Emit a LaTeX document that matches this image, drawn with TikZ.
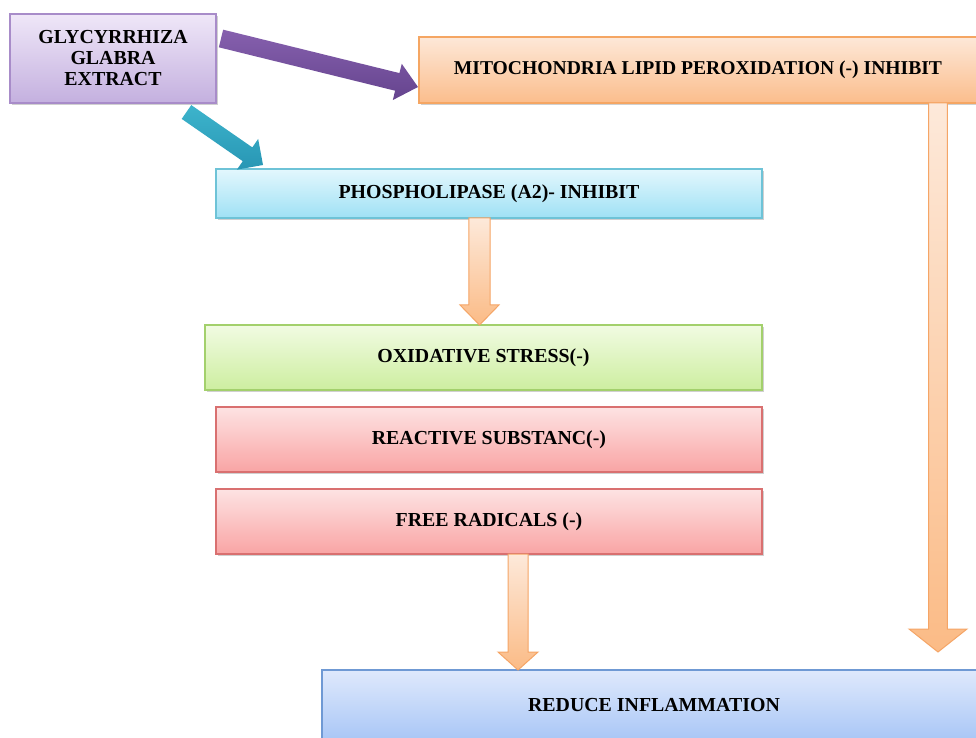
\documentclass[tikz,border=0pt]{standalone}
\usepackage{fontspec}
\setmainfont{Liberation Serif}
\usetikzlibrary{calc,shadows}
\definecolor{glyT}{HTML}{EFE7F8}\definecolor{glyB}{HTML}{C4B0DF}\definecolor{glyD}{HTML}{A88CC9}
\definecolor{mitT}{HTML}{FDE8D8}\definecolor{mitB}{HTML}{FBBD8C}\definecolor{mitD}{HTML}{F5A663}
\definecolor{phoT}{HTML}{E3F7FD}\definecolor{phoB}{HTML}{9FE1F5}\definecolor{phoD}{HTML}{6EC3D7}
\definecolor{oxiT}{HTML}{F1FBE2}\definecolor{oxiB}{HTML}{CDEEA0}\definecolor{oxiD}{HTML}{A3D06C}
\definecolor{redT}{HTML}{FDE3E3}\definecolor{redB}{HTML}{F9A4A4}\definecolor{redD}{HTML}{D97070}
\definecolor{bluT}{HTML}{DFE9FC}\definecolor{bluB}{HTML}{A9C6F6}\definecolor{bluD}{HTML}{6F99D4}
\definecolor{purT}{HTML}{8660AE}\definecolor{purB}{HTML}{65448E}
\definecolor{teaT}{HTML}{3DB4CC}\definecolor{teaB}{HTML}{2896B4}
\definecolor{oraT}{HTML}{FDE9DA}\definecolor{oraB}{HTML}{FBBB86}\definecolor{oraD}{HTML}{F5A566}
% #1 start, #2 tip, #3 shaft half width, #4 head half width, #5 head length, #6 style
\newcommand\blockarrow[6]{%
  \coordinate (ba-h) at ($(#2)!#5!(#1)$);
  \path[#6] ($(#1)!#3!90:(#2)$) -- ($(ba-h)!#3!90:(#2)$) -- ($(ba-h)!#4!90:(#2)$)
     -- (#2) -- ($(ba-h)!#4!-90:(#2)$) -- ($(ba-h)!#3!-90:(#2)$) -- ($(#1)!#3!-90:(#2)$) -- cycle;}
\begin{document}
\begin{tikzpicture}[x=0.75pt,y=-0.75pt,
  box/.style={draw, line width=0.9pt, inner sep=0pt, outer sep=0pt, align=center,
    font=\bfseries\fontsize{14.9}{15.75}\selectfont,
    drop shadow={shadow xshift=1.2pt, shadow yshift=-1.4pt, opacity=0.3, fill=black!60}},
  orarrow/.style={top color=oraT, bottom color=oraB, draw=oraD, line width=0.75pt},
  purarrow/.style={top color=purT, bottom color=purB},
  teaarrow/.style={top color=teaT, bottom color=teaB}]
\clip (0,0) rectangle (976,738);
\fill[white] (0,0) rectangle (976,738);

\node[box, top color=glyT, bottom color=glyB, draw=glyD, minimum width=154.5pt, minimum height=66.75pt] (gly) at (113,58.5) {GLYCYRRHIZA\\GLABRA\\EXTRACT};
\node[box, top color=mitT, bottom color=mitB, draw=mitD, minimum width=418.5pt, minimum height=49.5pt, font=\bfseries\fontsize{14.7}{15}\selectfont] (mito) at (698,70) {MITOCHONDRIA LIPID PEROXIDATION (-) INHIBIT};
\node[box, top color=phoT, bottom color=phoB, draw=phoD, minimum width=409.5pt, minimum height=36.75pt] (phos) at (489,193.5) {PHOSPHOLIPASE (A2)- INHIBIT};
\node[box, top color=oxiT, bottom color=oxiB, draw=oxiD, minimum width=417.75pt, minimum height=48.75pt] (oxi) at (483.5,357.5) {OXIDATIVE STRESS(-)};
\node[box, top color=redT, bottom color=redB, draw=redD, minimum width=409.5pt, minimum height=48.75pt] (reac) at (489,439.5) {REACTIVE SUBSTANC(-)};
\node[box, top color=redT, bottom color=redB, draw=redD, minimum width=409.5pt, minimum height=48.75pt] (free) at (489,521.5) {FREE RADICALS (-)};
\node[box, top color=bluT, bottom color=bluB, draw=bluD, minimum width=498pt, minimum height=52.5pt] (red) at (654,705) {REDUCE INFLAMMATION};

\coordinate (a1s) at ($(gly.east)+(5,-20)$);
\coordinate (a1e) at ($(mito.west)+(-1,17)$);
\blockarrow{a1s}{a1e}{6.8pt}{14pt}{16pt}{purarrow}
\coordinate (a2s) at ($(gly.south)+(73.5,9)$);
\coordinate (a2e) at ($(phos.north west)+(47,-4)$);
\blockarrow{a2s}{a2e}{6.3pt}{14pt}{14.1pt}{teaarrow}
\coordinate (a3s) at ($(phos.south)+(-9.5,0)$);
\coordinate (a3e) at ($(oxi.north)+(-4,0)$);
\blockarrow{a3s}{a3e}{7.9pt}{14.6pt}{15pt}{orarrow}
\coordinate (a4s) at ($(mito.south)+(240,0)$);
\coordinate (a4e) at ($(red.north)+(284,-18)$);
\blockarrow{a4s}{a4e}{7.1pt}{21.75pt}{17.25pt}{orarrow}
\coordinate (a5s) at ($(free.south)+(29,0)$);
\coordinate (a5e) at ($(red.north)+(-136,0)$);
\blockarrow{a5s}{a5e}{7.5pt}{15pt}{13.5pt}{orarrow}
\end{tikzpicture}
\end{document}
